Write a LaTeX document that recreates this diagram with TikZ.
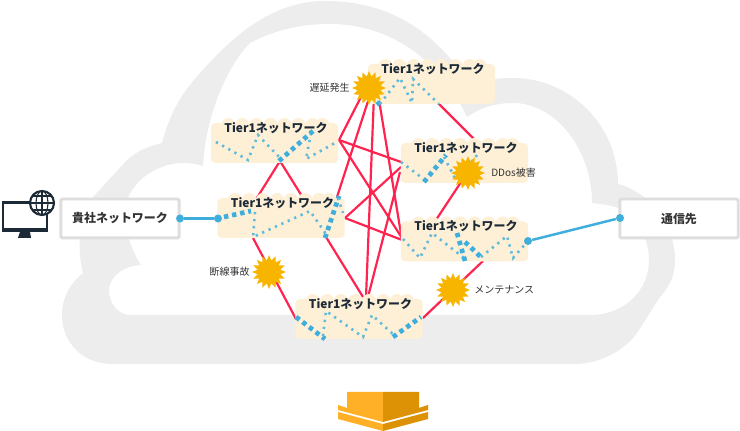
\documentclass[tikz,border=0pt]{standalone}
\usepackage{fontspec}
\setmainfont{Noto Sans CJK JP}
\usepackage{xcolor}
\usetikzlibrary{calc,shapes.geometric,positioning}

\definecolor{cloudgray}{HTML}{EDEDED}
\definecolor{tiercream}{HTML}{FEF0D6}
\definecolor{linkred}{HTML}{FF2450}
\definecolor{netblue}{HTML}{3FAEDC}
\definecolor{dotblue}{HTML}{62BBDB}
\definecolor{stargold}{HTML}{F7B500}
\definecolor{iconnavy}{HTML}{1C2A38}
\definecolor{textdark}{HTML}{333333}
\definecolor{arrowlight}{HTML}{FFB027}
\definecolor{arrowdark}{HTML}{DD9206}

\tikzset{
	tierbox/.style={fill=tiercream,rounded corners=0.09cm,minimum width=2.55cm,minimum height=0.8cm,inner sep=0},
	tierlabel/.style={font=\fontsize{6.8}{8}\selectfont\bfseries,text=iconnavy,inner sep=0},
	endbox/.style={draw=black!13,line width=1.7pt,fill=white,rounded corners=0.03cm,minimum width=2.37cm,minimum height=0.78cm,font=\fontsize{6.8}{8}\selectfont\bfseries,text=textdark,inner sep=0},
	redlink/.style={draw=linkred,line width=1.25pt},
	bluelink/.style={draw=netblue,line width=1.4pt},
	bluedot/.style={circle,fill=netblue,minimum size=0.16cm,inner sep=0},
	tierdots/.style={draw=dotblue,line width=1.5pt,dash pattern=on 1.3pt off 2.7pt},
	tierchain/.style={draw=netblue,line width=2.7pt,dash pattern=on 2.5pt off 2.2pt},
	trouble/.style={star,star points=16,star point ratio=1.45,fill=stargold,minimum size=0.68cm,inner sep=0},
	troublelabel/.style={font=\fontsize{5.7}{7}\selectfont,text=textdark,inner sep=0}
}

\begin{document}
\begin{tikzpicture}[x=0.02cm,y=-0.02cm]
	\useasboundingbox (0,0) rectangle (740,431);

	% cloud
	\fill[cloudgray,even odd rule] (112,364) .. controls (82,364) and (62,342) .. (62,315)
		.. controls (62,297) and (70,284) .. (83,273)
		.. controls (76,245) and (80,218) .. (93,197) -- (127,160)
		.. controls (138,150) and (150,146) .. (162,143)
		.. controls (172,105) and (187,88) .. (200,73)
		.. controls (228,42) and (268,1) .. (325,1)
		.. controls (370,1) and (425,15) .. (470,85)
		.. controls (483,80) and (498,78) .. (513,78)
		.. controls (570,78) and (618,125) .. (618,184)
		.. controls (650,192) and (675,225) .. (675,260)
		.. controls (675,278) and (668,288) .. (660,297) -- (637,333)
		.. controls (625,350) and (600,364) .. (575,364) -- cycle
		(130,315) .. controls (118,315) and (109,303) .. (109,290)
		.. controls (109,278) and (122,266) .. (141,265)
		.. controls (130,248) and (125,230) .. (125,213)
		.. controls (125,185) and (155,163) .. (183,163)
		.. controls (190,163) and (197,164) .. (203,166)
		.. controls (205,125) and (222,72) .. (250,43)
		.. controls (275,30) and (300,24) .. (330,24)
		.. controls (380,24) and (435,50) .. (467,117)
		.. controls (480,108) and (495,103) .. (513,103)
		.. controls (556,103) and (592,150) .. (592,203)
		.. controls (600,204) and (610,205) .. (618,208)
		.. controls (636,215) and (649,238) .. (649,260)
		.. controls (649,290) and (625,315) .. (590,315) -- cycle;

	% connector ends
	\coordinate (aDown) at (280,161);
	\coordinate (aRight) at (339,140);
	\coordinate (bUpL) at (255,201);
	\coordinate (bUpR) at (305,201);
	\coordinate (bDownL) at (253,238);
	\coordinate (bDownR) at (326,237);
	\coordinate (bTop) at (337,197);
	\coordinate (bRight) at (345,218);
	\coordinate (cA) at (362,95);
	\coordinate (cB) at (370,95);
	\coordinate (cF) at (374,95);
	\coordinate (cE) at (379,100);
	\coordinate (cD) at (435,100);
	\coordinate (dC) at (478,143);
	\coordinate (dA) at (401,162);
	\coordinate (dB) at (401,167);
	\coordinate (dF) at (400,172);
	\coordinate (dE) at (469,170);
	\coordinate (eA) at (402,238);
	\coordinate (eB) at (402,240);
	\coordinate (eC) at (402,240);
	\coordinate (eD) at (432,226);
	\coordinate (eF) at (483,261);
	\coordinate (fB1) at (296,319);
	\coordinate (fB2) at (363,297);
	\coordinate (fC) at (366,297);
	\coordinate (fD) at (368,297);
	\coordinate (fE) at (423,318);

	\foreach \from/\to in {aDown/bUpL,aDown/bUpR,bDownL/fB1,bDownR/fB2,aRight/cA,bTop/cB,cF/fC,cE/eC,cD/dC,aRight/dA,aRight/eA,bRight/dB,bRight/eB,dF/fD,dE/eD,eF/fE}
		\draw[redlink] (\from) -- (\to);

	% tier networks
	\foreach \name/\cx/\cy in {tierA/274.5/143,tierB/281/218,tierC/431.5/84,tierD/464.5/163,tierE/464.5/241.5,tierF/359/319} {
		\foreach \dx in {-46,-32,-18,-4,10,24,38,48}
			\fill[tiercream] (\cx+\dx,\cy-18) circle (7);
		\node[tierbox] (\name) at (\cx,\cy) {};
		\node[tierlabel] (\name label) at (\cx+1.5,\cy-15) {Tier1ネットワーク};
	}

	% routes inside the networks
	\draw[tierdots] (216,142) -- (248,160) -- (258,135) -- (281,159);
	\draw[tierdots] (311,133) -- (306,159) -- (335,143);
	\draw[tierchain] (279,161) -- (313,131);

	\draw[tierchain] (224,217) -- (251,211);
	\draw[tierdots] (255,212) -- (253,237) -- (310,211) -- (326,234);
	\draw[tierchain] (325,238) -- (339,196);
	\draw[tierdots] (338,198) -- (343,213);

	\draw[tierchain] (380,105) -- (371,93);
	\draw[tierdots] (380,104) -- (400,78) -- (412,103) -- (413,79) -- (439,104);

	\draw[tierdots] (401,162) -- (425,180);
	\draw[tierchain] (424,182) -- (446,155);
	\draw[tierdots] (444,157) -- (456,180) -- (478,154);

	\draw[tierdots] (403,239) -- (420,258) -- (432,233) -- (464,258);
	\draw[tierchain] (465,261) -- (457,233);
	\draw[tierchain] (465,242) -- (483,259);
	\draw[tierdots] (481,257) -- (507,236) -- (513,258) -- (528,241);

	\draw[tierchain] (296,317) -- (325,339);
	\draw[tierdots] (323,336) -- (326,311) -- (363,337) -- (372,315) -- (395,336);
	\draw[tierchain] (393,337) -- (421,317);

	% troubles
	\node[trouble] (delay) at (369,88) {};
	\node[trouble] (ddos) at (468,173) {};
	\node[trouble] (cut) at (269,272) {};
	\node[trouble] (maint) at (453,290) {};
	\node[troublelabel,left=1 of delay] (delaylabel) {遅延発生};
	\node[troublelabel,right=5 of ddos] (ddoslabel) {DDos被害};
	\node[troublelabel,left=1 of cut] (cutlabel) {断線事故};
	\node[troublelabel,right=3 of maint] (maintlabel) {メンテナンス};

	% both ends
	\node[endbox] (office) at (120,218.5) {貴社ネットワーク};
	\node[endbox] (remote) at (679,218.5) {通信先};
	\node[bluedot] (officedot) at (180,218.5) {};
	\node[bluedot] (tierBdot) at (218,218.5) {};
	\node[bluedot] (tierEdot) at (528,241) {};
	\node[bluedot] (remotedot) at (620,218) {};
	\draw[bluelink] (officedot) -- (tierBdot);
	\draw[bluelink] (tierEdot) -- (remotedot);

	% computer
	\draw[iconnavy,line width=1.2pt,fill=white] (3,202.5) rectangle (47,231);
	\fill[iconnavy] (2,228.5) rectangle (48,232);
	\fill[iconnavy] (20,232) -- (30,232) -- (31,238) -- (18,238) -- cycle;
	\draw[iconnavy,line width=1.2pt,fill=white] (42,203) circle (12);
	\draw[iconnavy,line width=0.6pt] (42,191) -- (42,215) (30,203) -- (54,203) (33,196) -- (51,196) (33,210) -- (51,210);
	\draw[iconnavy,line width=0.6pt] (42,203) ellipse (6 and 12);

	% arrow
	\fill[arrowlight] (347,392) -- (383,392) -- (383,422) -- (338,410) -- (338,405) -- (347,408) -- cycle;
	\fill[arrowdark] (419,392) -- (383,392) -- (383,422) -- (428,410) -- (428,405) -- (419,408) -- cycle;
	\fill[arrowlight] (338,412) -- (383,424) -- (383,431) -- (338,419) -- cycle;
	\fill[arrowdark] (428,412) -- (383,424) -- (383,431) -- (428,419) -- cycle;
\end{tikzpicture}
\end{document}
